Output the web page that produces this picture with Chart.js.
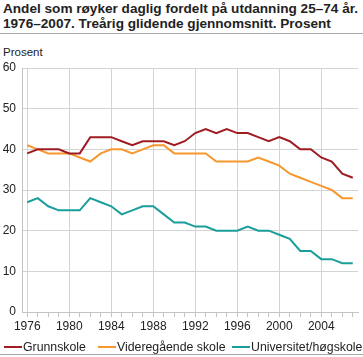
<!DOCTYPE html>
<html><head><meta charset="utf-8">
<script src="https://cdn.jsdelivr.net/npm/chart.js@4.4.1/dist/chart.umd.min.js"></script>
<style>
html,body{margin:0;padding:0;background:#fff;}
#wrap{position:relative;width:363px;height:357px;overflow:hidden;font-family:"Liberation Sans",Arial,sans-serif;color:#222;}
#title{position:absolute;left:3px;top:1px;font-weight:bold;font-size:13.6px;line-height:15px;white-space:nowrap;}
.rule{position:absolute;left:0;width:363px;height:1px;background:#aaa;}
#unit{position:absolute;left:3px;top:46px;font-size:11.5px;line-height:13px;}
#c{position:absolute;left:0;top:0;}
.leg{position:absolute;top:340px;font-size:12.3px;line-height:14px;white-space:nowrap;}
.leg i{display:inline-block;width:18px;height:2px;vertical-align:middle;margin-right:1px;position:relative;top:-1px;}
</style></head>
<body><div id="wrap">
<div id="title">Andel som røyker daglig fordelt på utdanning 25–74 år.<br>1976–2007. Treårig glidende gjennomsnitt. Prosent</div>
<div class="rule" style="top:33px"></div>
<div id="unit">Prosent</div>
<canvas id="c" width="363" height="357"></canvas>
<div id="legend"></div>
<div class="rule" style="top:354px"></div>
</div>
<script>
const years = ['1976','1977','1978','1979','1980','1981','1982','1983','1984','1985','1986','1987','1988','1989','1990','1991','1992','1993','1994','1995','1996','1997','1998','1999','2000','2001','2002','2003','2004','2005','2006','2007'];
const grunnskole = [39,40,40,40,39,39,43,43,43,42,41,42,42,42,41,42,44,45,44,45,44,44,43,42,43,42,40,40,38,37,34,33];
const videregaende = [41,40,39,39,39,38,37,39,40,40,39,40,41,41,39,39,39,39,37,37,37,37,38,37,36,34,33,32,31,30,28,28];
const universitet = [27,28,26,25,25,25,28,27,26,24,25,26,26,24,22,22,21,21,20,20,20,21,20,20,19,18,15,15,13,13,12,12];
const seriesNames = ['Grunnskole','Videregående skole','Universitet/høgskole'];
const seriesColors = ['#9e1c22','#f7982f','#1a9e9b'];
const yTicks = [0,10,20,30,40,50,60];

const legendX = [4,98,232];
const leg = document.getElementById('legend');
seriesNames.forEach((n,i)=>{
  const d=document.createElement('div');d.className='leg';d.style.left=legendX[i]+'px';
  d.innerHTML='<i style="background:'+seriesColors[i]+'"></i>'+n;leg.appendChild(d);
});

const gridCol='#d3d3d3';
new Chart(document.getElementById('c'),{
  type:'line',
  data:{labels:years,datasets:[grunnskole,videregaende,universitet].map((d,i)=>({
    label:seriesNames[i],data:d,borderColor:seriesColors[i],backgroundColor:seriesColors[i],
    borderWidth:2,pointRadius:0,tension:0,fill:false}))},
  options:{
    responsive:false,animation:false,devicePixelRatio:1,
    layout:{padding:{top:68,right:5,bottom:23,left:0}},
    plugins:{legend:{display:false},tooltip:{enabled:false},title:{display:false}},
    scales:{
      x:{type:'category',offset:true,
        grid:{color:c=>(c.index%4===0?gridCol:'rgba(0,0,0,0)'),tickColor:'#c4c4c4',tickLength:5,drawTicks:true},
        border:{color:'#c4c4c4'},
        ticks:{autoSkip:false,maxRotation:0,padding:2,color:'#222',font:{family:'"Liberation Sans",Arial,sans-serif',size:12},
          callback:(v,i)=>(i%4===0?years[i]:'')},
        afterFit:s=>{s.height=22;}},
      y:{min:0,max:60,
        afterBuildTicks:s=>{s.ticks=yTicks.map(v=>({value:v}));},
        grid:{color:gridCol,drawTicks:false},
        border:{color:'#c4c4c4'},
        ticks:{padding:6,color:'#222',font:{family:'"Liberation Sans",Arial,sans-serif',size:12}},
        afterFit:s=>{s.width=22;}}
    }
  }
});
</script>
</body></html>
